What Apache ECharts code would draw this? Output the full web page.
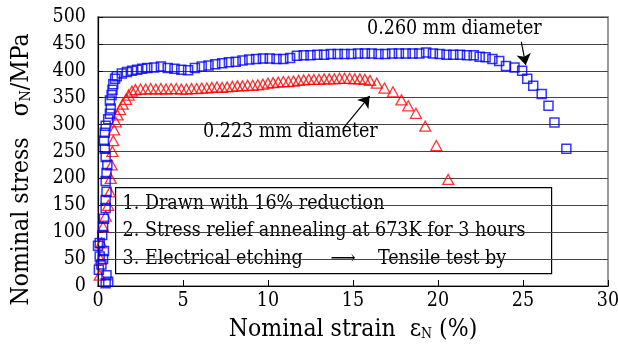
<!DOCTYPE html>
<html>
<head>
<meta charset="utf-8">
<script src="https://cdn.jsdelivr.net/npm/echarts@6/dist/echarts.min.js"></script>
<style>
  html, body { margin: 0; padding: 0; background: #fff; }
  #chart { width: 618px; height: 345px; }
</style>
</head>
<body>
<div id="chart"></div>
<script>
// stress-strain curves for two wire diameters
const SERIF = "'DejaVu Serif Condensed', 'Liberation Serif', serif";
const FS = 19.5;
const NAME_FS = 24.5;

const xTicks = [0, 5, 10, 15, 20, 25, 30];
const yTicks = [0, 50, 100, 150, 200, 250, 300, 350, 400, 450, 500];

// 0.260 mm diameter (blue squares)
const blueStrain = [
  0.05, 0.1, 0.0, 0.3, 0.5, 0.6, 0.45, 0.2, 0.35, 0.1, 0.25, 0.3, 0.35, 0.45, 0.45, 0.5,
  0.45, 0.5, 0.55, 0.45, 0.4, 0.35, 0.4, 0.45, 0.6, 0.7, 0.75, 0.7, 0.8, 0.85, 0.9, 1.0,
  1.1, 1.4, 1.7, 2.0, 2.3, 2.6, 2.9, 3.3, 3.7, 4.1, 4.5, 4.9, 5.3, 5.7, 6.1, 6.5,
  6.9, 7.3, 7.7, 8.1, 8.5, 8.9, 9.3, 9.7, 10.1, 10.5, 10.9, 11.3, 11.7, 12.1, 12.5, 12.9,
  13.3, 13.7, 14.1, 14.5, 14.9, 15.3, 15.7, 16.1, 16.5, 16.9, 17.3, 17.7, 18.1, 18.5, 18.9, 19.3,
  19.7, 20.1, 20.5, 20.9, 21.3, 21.7, 22.1, 22.45, 22.8, 23.2, 23.6, 24.0, 24.5, 24.95, 25.25, 25.6,
  26.1, 26.5, 26.85, 27.55
];
const blueStress = [
  30, 55, 75, 50, 20, 8, 5, 40, 65, 80, 95, 110, 125, 145, 160, 175,
  195, 210, 225, 240, 255, 270, 285, 298, 310, 320, 330, 345, 355, 365, 375, 385,
  390, 395, 398, 400, 402, 404, 405, 406, 408, 405, 404, 402, 401, 405, 408, 410,
  412, 414, 416, 417, 419, 421, 422, 423, 423, 422, 422, 424, 428, 429, 429, 430,
  430, 431, 431, 431, 431, 432, 432, 432, 431, 431, 432, 432, 432, 432, 432, 434,
  432, 431, 430, 430, 430, 429, 429, 426, 425, 422, 418, 409, 406, 400, 385, 372,
  357, 335, 304, 255
];

// 0.223 mm diameter (red triangles)
const redStrain = [
  0.1, 0.15, 0.2, 0.3, 0.45, 0.6, 0.7, 0.75, 0.8, 0.85, 0.9, 0.95, 1.05, 1.15, 1.3, 1.45,
  1.65, 1.8, 2.0, 2.2, 2.5, 2.8, 3.1, 3.4, 3.7, 4.0, 4.3, 4.6, 4.9, 5.2, 5.5, 5.8,
  6.1, 6.4, 6.7, 7.0, 7.3, 7.6, 7.9, 8.2, 8.5, 8.8, 9.1, 9.4, 9.7, 10.0, 10.3, 10.6,
  10.9, 11.2, 11.5, 11.8, 12.1, 12.4, 12.7, 13.0, 13.3, 13.6, 13.9, 14.2, 14.5, 14.8,
  15.1, 15.4, 15.7, 16.0, 16.4, 16.85, 17.35, 17.85, 18.25, 18.7, 19.25, 19.9, 20.6
];
const redStress = [
  20, 50, 80, 110, 130, 150, 175, 200, 225, 250, 270, 290, 305, 318, 328, 338,
  347, 355, 362, 365, 366, 366, 367, 366, 367, 366, 367, 367, 366, 366, 367, 367,
  368, 368, 369, 370, 369, 370, 371, 372, 372, 373, 373, 374, 375, 377, 378, 379,
  380, 380, 381, 382, 383, 384, 384, 384, 385, 385, 385, 386, 386, 386,
  385, 385, 384, 382, 377, 368, 361, 346, 335, 321, 297, 261, 198
];

const pairs = (xs, ys) => xs.map((x, i) => [x, ys[i]]);

const legendLines = [
  '1. Drawn with 16% reduction',
  '2. Stress relief annealing at 673K for 3 hours',
  '3. Electrical etching     \u27f6    Tensile test by'
];

const chart = echarts.init(document.getElementById('chart'), null, { renderer: 'canvas' });

const axisText = { color: '#000', fontFamily: SERIF, fontSize: FS };
const nameRich = {
  a: { fontFamily: SERIF, fontSize: NAME_FS, color: '#000' },
  s: { fontFamily: SERIF, fontSize: 14, color: '#000', padding: [9, 0, 0, 0] }
};

const option = {
  backgroundColor: '#fff',
  animation: false,
  grid: {
    left: 98, right: 10, top: 17, bottom: 59,
    outerBoundsMode: 'none',
    show: true, borderColor: '#999', borderWidth: 2, backgroundColor: 'transparent'
  },
  xAxis: {
    type: 'value',
    min: xTicks[0], max: xTicks[xTicks.length - 1], interval: 5,
    name: '{a|Nominal strain  \u03b5}{s|N}{a| (%)}',
    nameLocation: 'middle', nameGap: 31,
    nameTextStyle: { rich: nameRich },
    axisLine: { lineStyle: { color: '#000', width: 1.2 } },
    axisTick: { inside: true, length: 6, lineStyle: { color: '#000' } },
    axisLabel: Object.assign({ margin: 5 }, axisText),
    splitLine: { show: false }
  },
  yAxis: {
    type: 'value',
    min: yTicks[0], max: yTicks[yTicks.length - 1], interval: 50,
    name: '{a|Nominal stress   \u03c3}{s|N}{a|/MPa}',
    nameLocation: 'middle', nameGap: 64, nameRotate: 90,
    nameTextStyle: { rich: nameRich, padding: [0, 36, 0, 0] },
    axisLine: { show: true, lineStyle: { color: '#000', width: 1.2 } },
    axisTick: { show: true, inside: true, length: 5, lineStyle: { color: '#000' } },
    axisLabel: Object.assign({ margin: 12 }, axisText),
    splitLine: { show: true, lineStyle: { color: '#444', width: 1 } }
  },
  series: [
    {
      name: '0.223 mm diameter',
      type: 'scatter',
      data: pairs(redStrain, redStress),
      symbol: 'triangle',
      symbolSize: [11, 10],
      itemStyle: { color: 'rgba(255,255,255,0)', borderColor: '#ff0000', borderWidth: 1.3 },
      markLine: {
        silent: true,
        symbol: ['none', 'arrow'],
        symbolSize: 11,
        label: { show: false },
        lineStyle: { color: '#000', width: 1.2, type: 'solid' },
        data: [[{ coord: [14.4, 292] }, { coord: [15.98, 353] }]]
      }
    },
    {
      name: '0.260 mm diameter',
      type: 'scatter',
      data: pairs(blueStrain, blueStress),
      symbol: 'rect',
      symbolSize: 9,
      itemStyle: { color: 'rgba(255,255,255,0)', borderColor: '#0000ff', borderWidth: 1.5 },
      markLine: {
        silent: true,
        symbol: ['none', 'arrow'],
        symbolSize: 11,
        label: { show: false },
        lineStyle: { color: '#000', width: 1.2, type: 'solid' },
        data: [[{ coord: [24.9, 454] }, { coord: [25.16, 411] }]]
      }
    }
  ],
  graphic: [
    {
      type: 'text', left: 367, top: 19, z: 100,
      style: { text: '0.260 mm diameter', font: FS + 'px ' + SERIF, fill: '#000' }
    },
    {
      type: 'text', left: 203, top: 122, z: 100,
      style: { text: '0.223 mm diameter', font: FS + 'px ' + SERIF, fill: '#000' }
    },
    {
      type: 'group', left: 115, top: 187, z: 100,
      children: [
        {
          type: 'rect', shape: { x: 0, y: 0, width: 436, height: 86 },
          style: { fill: '#fff', stroke: '#000', lineWidth: 1.2 }
        }
      ].concat(legendLines.map((t, i) => ({
        type: 'text', x: 7, y: 16 + i * 27.5,
        style: { text: t, font: FS + 'px ' + SERIF, fill: '#000', verticalAlign: 'middle' }
      })))
    }
  ]
};

chart.setOption(option);
</script>
</body>
</html>
